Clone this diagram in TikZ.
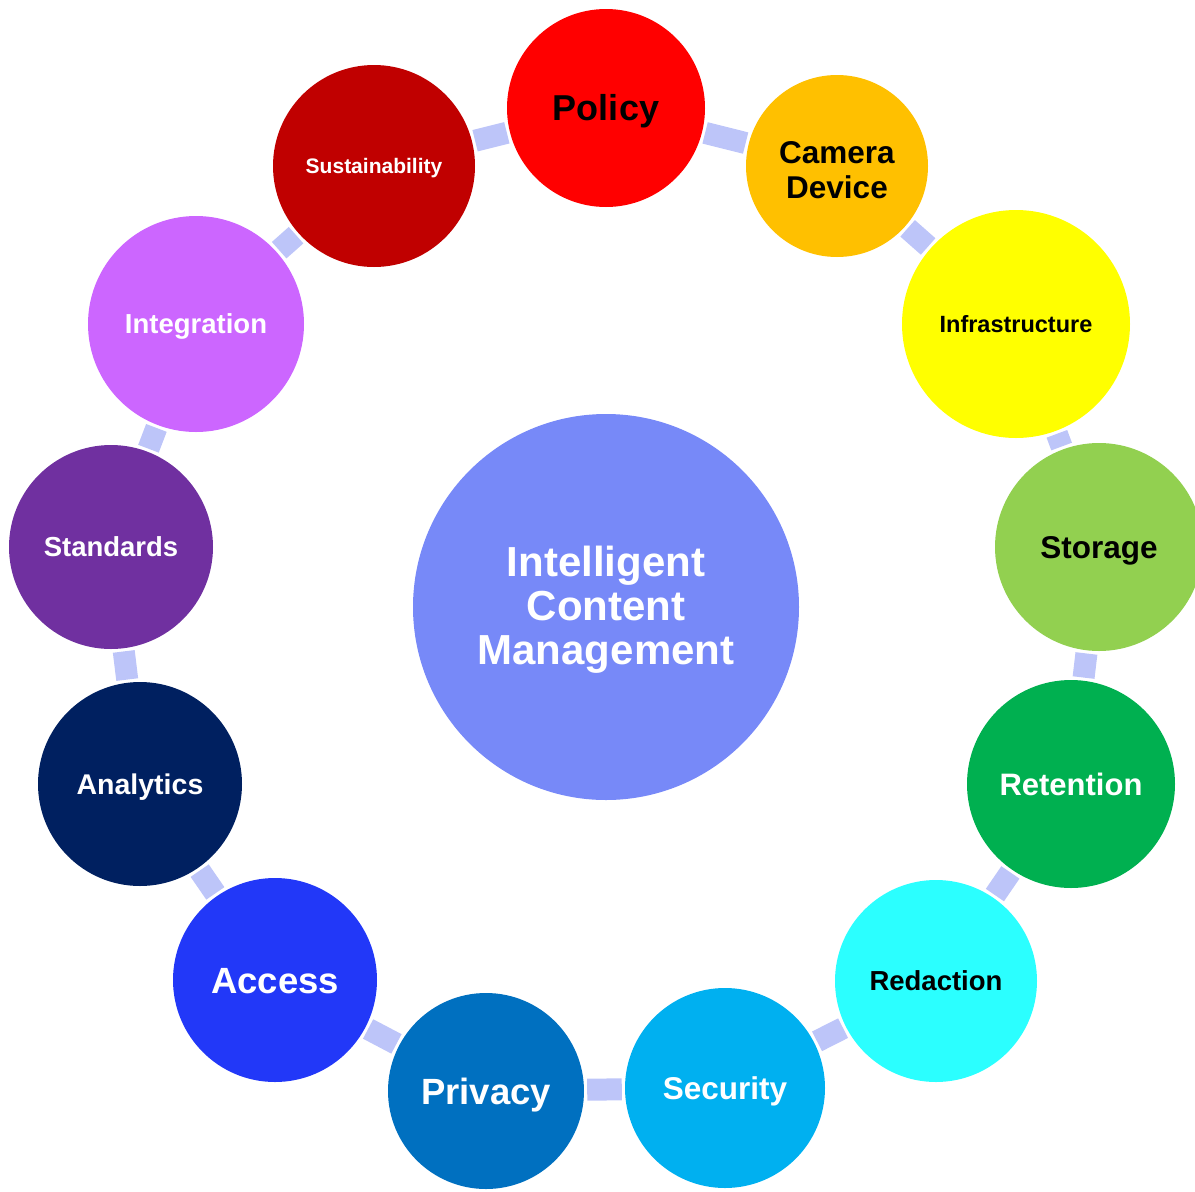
\documentclass[tikz,border=0pt]{standalone}
\usepackage{fontspec}
\setmainfont{Liberation Sans}
\usetikzlibrary{backgrounds}
\definecolor{cCenter}{HTML}{7789F8}
\definecolor{cPolicy}{HTML}{FF0000}
\definecolor{cCamera}{HTML}{FFC000}
\definecolor{cInfra}{HTML}{FFFF00}
\definecolor{cStorage}{HTML}{92D050}
\definecolor{cRetention}{HTML}{00B050}
\definecolor{cRedaction}{HTML}{2BFFFF}
\definecolor{cSecurity}{HTML}{00B0F0}
\definecolor{cPrivacy}{HTML}{0070C0}
\definecolor{cAccess}{HTML}{2238F8}
\definecolor{cAnalytics}{HTML}{002060}
\definecolor{cStandards}{HTML}{7030A0}
\definecolor{cIntegration}{HTML}{CC66FF}
\definecolor{cSustain}{HTML}{C00000}
\definecolor{cLink}{HTML}{BDC5F9}
\tikzset{
  ball/.style={circle, inner sep=0pt, draw=none, align=center, font=\bfseries},
  link/.style={draw=cLink, line width=22pt, line cap=butt, shorten >=3pt, shorten <=3pt},
  fs/.style={font=\bfseries\fontsize{#1}{#1}\selectfont, text height=#1*0.716pt, text depth=0pt}
}
\begin{document}
\begin{tikzpicture}[x=1pt,y=-1pt]
\useasboundingbox (0,0) rectangle (1195,1192);
\node[ball, fill=cCenter, text=white, minimum size=386pt, font=\bfseries\fontsize{42}{44}\selectfont, text height=114pt, text depth=0pt] (center) at (606,607) {Intelligent\\Content\\Management};
\node[ball, fill=cPolicy, text=black, minimum size=198pt, fs=36] (policy) at (606,108) {Policy};
\node[ball, fill=cCamera, text=black, minimum size=182pt, font=\bfseries\fontsize{31.5}{35}\selectfont, text height=64pt, text depth=0pt] (camera) at (837,166) {Camera\\Device};
\node[ball, fill=cInfra, text=black, minimum size=228pt, fs=23.5] (infra) at (1016,324) {Infrastructure};
\node[ball, fill=cStorage, text=black, minimum size=208pt, fs=31.5] (storage) at (1099,547) {Storage};
\node[ball, fill=cRetention, text=white, minimum size=208pt, fs=31] (retention) at (1071,784) {Retention};
\node[ball, fill=cRedaction, text=black, minimum size=202pt, fs=27.5] (redaction) at (936,981) {Redaction};
\node[ball, fill=cSecurity, text=white, minimum size=200pt, fs=31.5] (security) at (725,1088) {Security};
\node[ball, fill=cPrivacy, text=white, minimum size=196pt, fs=36.5] (privacy) at (486,1091) {Privacy};
\node[ball, fill=cAccess, text=white, minimum size=204pt, fs=36.5] (access) at (275,980) {Access};
\node[ball, fill=cAnalytics, text=white, minimum size=204pt, fs=28.5] (analytics) at (140,784) {Analytics};
\node[ball, fill=cStandards, text=white, minimum size=204pt, fs=27.5] (standards) at (111,547) {Standards};
\node[ball, fill=cIntegration, text=white, minimum size=216pt, fs=27.5] (integration) at (196,324) {Integration};
\node[ball, fill=cSustain, text=white, minimum size=202pt, fs=21] (sustain) at (374,166) {Sustainability};
\begin{pgfonlayer}{background}
\draw[link] (policy) -- (camera);
\draw[link] (camera) -- (infra);
\draw[link] (infra) -- (storage);
\draw[link] (storage) -- (retention);
\draw[link] (retention) -- (redaction);
\draw[link] (redaction) -- (security);
\draw[link] (security) -- (privacy);
\draw[link] (privacy) -- (access);
\draw[link] (access) -- (analytics);
\draw[link] (analytics) -- (standards);
\draw[link] (standards) -- (integration);
\draw[link] (integration) -- (sustain);
\draw[link] (sustain) -- (policy);
\end{pgfonlayer}
\end{tikzpicture}
\end{document}
